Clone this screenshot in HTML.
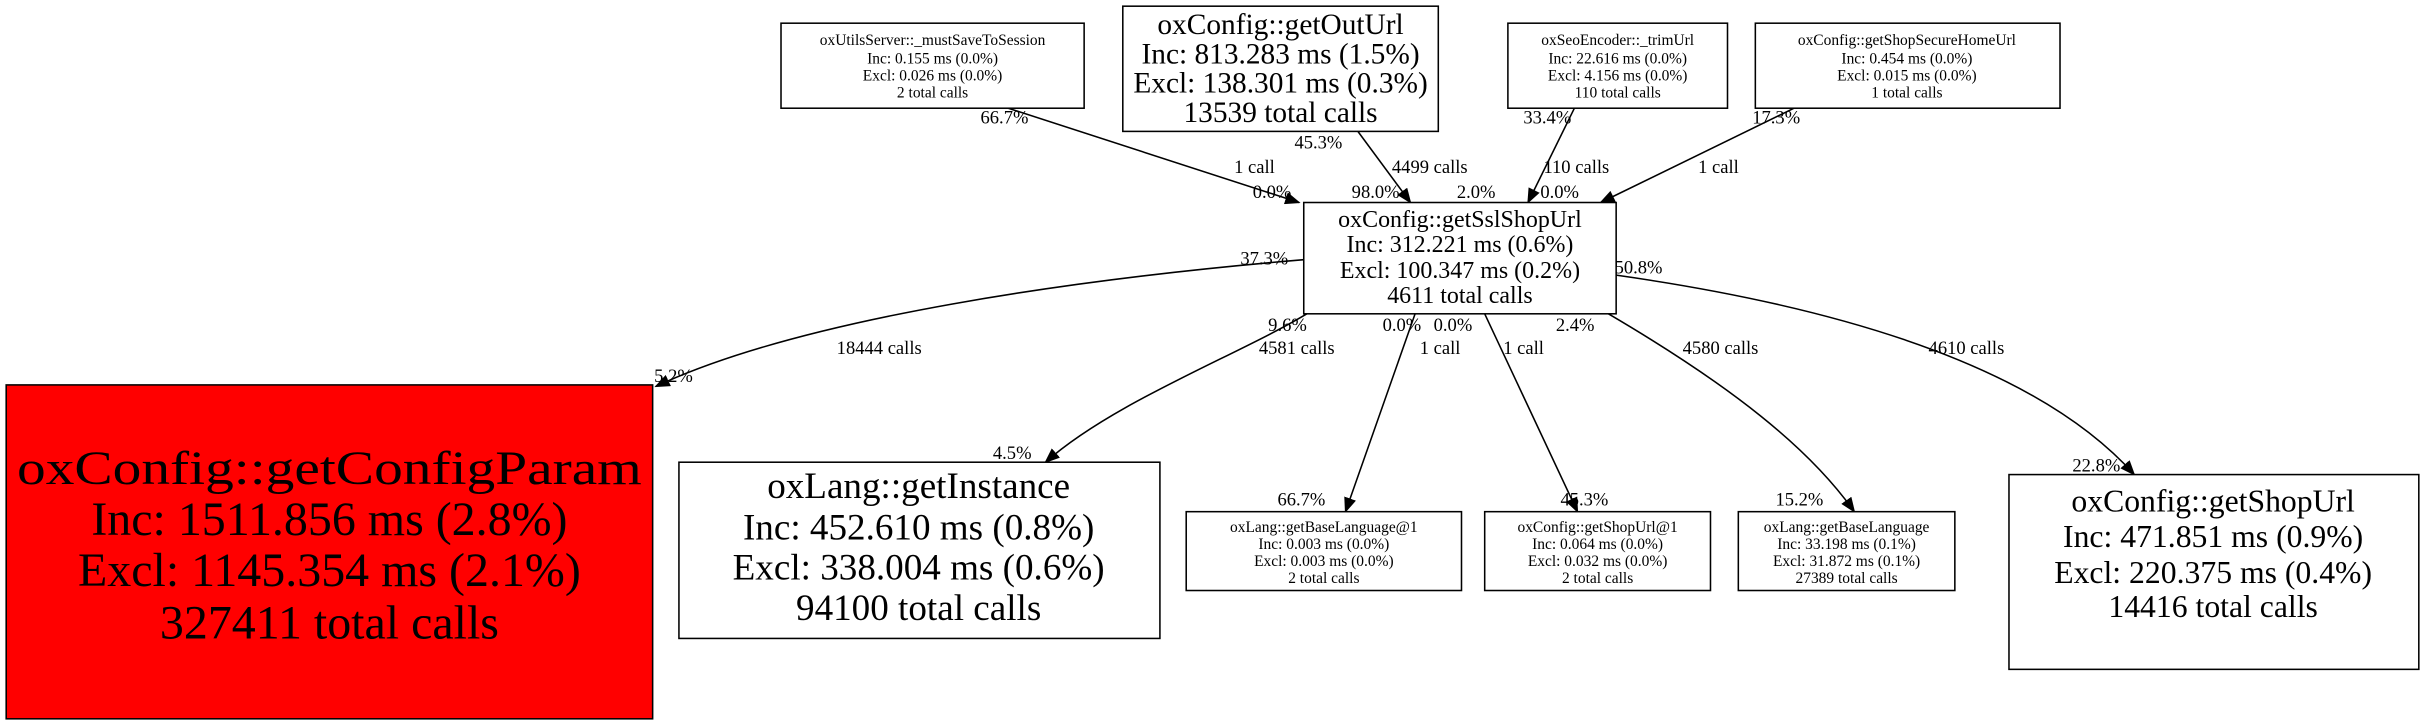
<!DOCTYPE html>
<html><head><meta charset="utf-8"><style>
html,body{margin:0;padding:0;background:#fff;}
svg{display:block;}
text{font-family:"Liberation Serif",serif;fill:#000;}
</style></head><body>
<svg width="2425" height="725" viewBox="0 0 1568 469" preserveAspectRatio="none" xmlns="http://www.w3.org/2000/svg">
<defs><marker id="a" markerWidth="10" markerHeight="8" refX="9" refY="4" orient="auto" markerUnits="userSpaceOnUse"><path d="M0,0 L10,4 L0,8 Z" fill="#000"/></marker></defs>
<g fill="none" stroke="#000" stroke-width="1">
<path d="M652,70 L840,131" marker-end="url(#a)"/>
<path d="M878,85 L912,131" marker-end="url(#a)"/>
<path d="M1018,70 L988,131" marker-end="url(#a)"/>
<path d="M1160,70 L1035,131" marker-end="url(#a)"/>
<path d="M843,168 C700,180 520,205 424,250" marker-end="url(#a)"/>
<path d="M845,203 C800,230 720,260 676,299" marker-end="url(#a)"/>
<path d="M915,203 L870,331" marker-end="url(#a)"/>
<path d="M960,203 L1020,331" marker-end="url(#a)"/>
<path d="M1040,203 C1120,250 1170,290 1199,331" marker-end="url(#a)"/>
<path d="M1045,178 C1200,200 1320,240 1380,307" marker-end="url(#a)"/>
</g>
<g stroke="#000" stroke-width="1">
<rect x="505" y="15" width="196" height="55" fill="#fff"/>
<rect x="726" y="4" width="204" height="81" fill="#fff"/>
<rect x="975" y="15" width="142" height="55" fill="#fff"/>
<rect x="1135" y="15" width="197" height="55" fill="#fff"/>
<rect x="843" y="131" width="202" height="72" fill="#fff"/>
<rect x="4" y="249" width="418" height="216" fill="#ff0000"/>
<rect x="439" y="299" width="311" height="114" fill="#fff"/>
<rect x="767" y="331" width="178" height="51" fill="#fff"/>
<rect x="960" y="331" width="146" height="51" fill="#fff"/>
<rect x="1124" y="331" width="140" height="51" fill="#fff"/>
<rect x="1299" y="307" width="265" height="126" fill="#fff"/>
</g>
<g text-anchor="middle" font-size="10">
<text x="603" y="29">oxUtilsServer::_mustSaveToSession</text>
<text x="603" y="41">Inc: 0.155 ms (0.0%)</text>
<text x="603" y="52">Excl: 0.026 ms (0.0%)</text>
<text x="603" y="63">2 total calls</text>
<text x="1046" y="29">oxSeoEncoder::_trimUrl</text>
<text x="1046" y="41">Inc: 22.616 ms (0.0%)</text>
<text x="1046" y="52">Excl: 4.156 ms (0.0%)</text>
<text x="1046" y="63">110 total calls</text>
<text x="1233" y="29">oxConfig::getShopSecureHomeUrl</text>
<text x="1233" y="41">Inc: 0.454 ms (0.0%)</text>
<text x="1233" y="52">Excl: 0.015 ms (0.0%)</text>
<text x="1233" y="63">1 total calls</text>
<text x="856" y="344">oxLang::getBaseLanguage@1</text>
<text x="856" y="355">Inc: 0.003 ms (0.0%)</text>
<text x="856" y="366">Excl: 0.003 ms (0.0%)</text>
<text x="856" y="377">2 total calls</text>
<text x="1033" y="344">oxConfig::getShopUrl@1</text>
<text x="1033" y="355">Inc: 0.064 ms (0.0%)</text>
<text x="1033" y="366">Excl: 0.032 ms (0.0%)</text>
<text x="1033" y="377">2 total calls</text>
<text x="1194" y="344">oxLang::getBaseLanguage</text>
<text x="1194" y="355">Inc: 33.198 ms (0.1%)</text>
<text x="1194" y="366">Excl: 31.872 ms (0.1%)</text>
<text x="1194" y="377">27389 total calls</text>
</g>
<g text-anchor="middle" font-size="19">
<text x="828" y="22">oxConfig::getOutUrl</text>
<text x="828" y="41">Inc: 813.283 ms (1.5%)</text>
<text x="828" y="60">Excl: 138.301 ms (0.3%)</text>
<text x="828" y="79">13539 total calls</text>
</g>
<g text-anchor="middle" font-size="15.5">
<text x="944" y="147">oxConfig::getSslShopUrl</text>
<text x="944" y="163">Inc: 312.221 ms (0.6%)</text>
<text x="944" y="180">Excl: 100.347 ms (0.2%)</text>
<text x="944" y="196">4611 total calls</text>
</g>
<g text-anchor="middle" font-size="31">
<text x="213" y="313" textLength="404" lengthAdjust="spacingAndGlyphs">oxConfig::getConfigParam</text>
<text x="213" y="346">Inc: 1511.856 ms (2.8%)</text>
<text x="213" y="379">Excl: 1145.354 ms (2.1%)</text>
<text x="213" y="413">327411 total calls</text>
</g>
<g text-anchor="middle" font-size="24">
<text x="594" y="322">oxLang::getInstance</text>
<text x="594" y="349">Inc: 452.610 ms (0.8%)</text>
<text x="594" y="375">Excl: 338.004 ms (0.6%)</text>
<text x="594" y="401">94100 total calls</text>
</g>
<g text-anchor="middle" font-size="20.5">
<text x="1431" y="331">oxConfig::getShopUrl</text>
<text x="1431" y="354">Inc: 471.851 ms (0.9%)</text>
<text x="1431" y="377">Excl: 220.375 ms (0.4%)</text>
<text x="1431" y="399">14416 total calls</text>
</g>
<g font-size="12">
<text x="634" y="80">66.7%</text>
<text x="798" y="112">1 call</text>
<text x="810" y="128">0.0%</text>
<text x="837" y="96">45.3%</text>
<text x="900" y="112">4499 calls</text>
<text x="874" y="128">98.0%</text>
<text x="985" y="80">33.4%</text>
<text x="998" y="112">110 calls</text>
<text x="942" y="128">2.0%</text>
<text x="996" y="128">0.0%</text>
<text x="1133" y="80">17.3%</text>
<text x="1098" y="112">1 call</text>
<text x="802" y="171">37.3%</text>
<text x="541" y="229">18444 calls</text>
<text x="423" y="247">5.2%</text>
<text x="820" y="214">9.6%</text>
<text x="814" y="229">4581 calls</text>
<text x="642" y="297">4.5%</text>
<text x="894" y="214">0.0%</text>
<text x="918" y="229">1 call</text>
<text x="826" y="327">66.7%</text>
<text x="927" y="214">0.0%</text>
<text x="972" y="229">1 call</text>
<text x="1009" y="327">45.3%</text>
<text x="1006" y="214">2.4%</text>
<text x="1088" y="229">4580 calls</text>
<text x="1148" y="327">15.2%</text>
<text x="1044" y="177">50.8%</text>
<text x="1247" y="229">4610 calls</text>
<text x="1340" y="305">22.8%</text>
</g>
</svg>
</body></html>
